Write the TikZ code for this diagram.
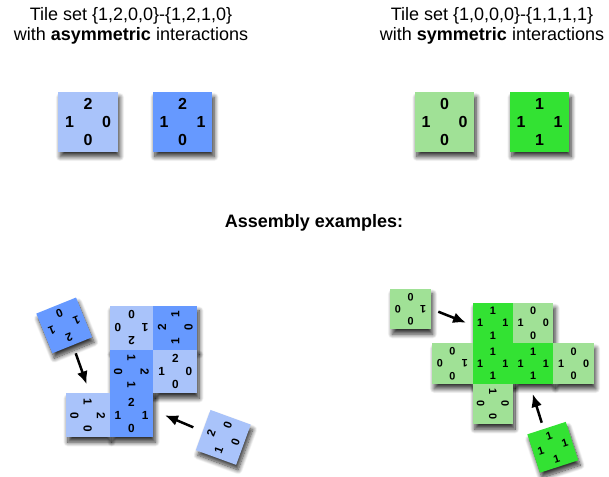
\documentclass[tikz,border=0pt]{standalone}
\usepackage{fontspec}
\setmainfont{Liberation Sans}
\usepackage{tikz}
\usetikzlibrary{shadows.blur,arrows.meta}
\definecolor{asymlight}{RGB}{169,195,250}
\definecolor{asymdark}{RGB}{102,153,255}
\definecolor{symlight}{RGB}{160,225,150}
\definecolor{symdark}{RGB}{51,226,51}
\tikzstyle{tilebox} = [rectangle, minimum size=59.5pt, inner sep=0pt, transform shape]
\tikzstyle{digit} = [inner sep=0pt, transform shape, font=\fontsize{16}{16}\selectfont\bfseries]
\tikzstyle{tileshade} = [blur shadow={shadow xshift=0pt, shadow yshift=0pt, shadow blur radius=4.5pt, shadow blur steps=12, shadow opacity=80}]
\tikzstyle{title} = [align=center, font=\fontsize{18}{20.7}\selectfont]
\tikzstyle{push} = [line width=2.5pt, -{Latex[length=13pt, width=11pt]}]

% shadow first, so that neighbouring tiles cover it
\newcommand{\shadetile}[3]{% position, angle, scale
  \begin{scope}[shift={#1}, shift={(2,-5)}, rotate=#2, scale=#3]
    \path[tileshade] (-29.75,-29.75) rectangle (29.75,29.75);
  \end{scope}}
\newcommand{\placetile}[9]{% name, position, angle, scale, colour, N, W, E, S
  \begin{scope}[shift={#2}, rotate=#3, scale=#4]
    \node[tilebox, fill=#5] (#1) at (0,0) {};
    \node[digit] (#1-n) at (0,18) {#6};
    \node[digit] (#1-w) at (-18.5,0) {#7};
    \node[digit] (#1-e) at (18.5,0) {#8};
    \node[digit] (#1-s) at (0,-18) {#9};
  \end{scope}}

% name/x/y/angle/scale/colour/N/W/E/S
\def\tilelist{%
  setA1/88/-122/0/1/asymlight/2/1/0/0,
  setA2/182.5/-122/0/1/asymdark/2/1/1/0,
  setS1/444.5/-122/0/1/symlight/0/1/0/0,
  setS2/539.5/-122/0/1/symdark/1/1/1/1,
  asmA1/131.5/-327.7/180/0.736/asymlight/2/1/0/0,
  asmA2/175.3/-327.7/90/0.736/asymdark/2/1/1/0,
  asmA3/131.5/-371.5/-90/0.736/asymdark/2/1/1/0,
  asmA4/175.3/-371.5/0/0.736/asymlight/2/1/0/0,
  asmA5/87.7/-415.3/-90/0.736/asymlight/2/1/0/0,
  asmA6/131.5/-415.3/0/0.736/asymdark/2/1/1/0,
  freeA1/64.2/-325.4/202/0.72/asymdark/2/1/1/0,
  freeA2/223.3/-437.4/70/0.72/asymlight/2/1/0/0,
  asmS1/492.8/-323.2/0/0.679/symdark/1/1/1/1,
  asmS2/533.2/-323.2/0/0.679/symlight/0/1/0/0,
  asmS3/452.4/-363.6/180/0.679/symlight/0/1/0/0,
  asmS4/492.8/-363.6/0/0.679/symdark/1/1/1/1,
  asmS5/533.2/-363.6/0/0.679/symdark/1/1/1/1,
  asmS6/573.6/-363.6/0/0.679/symlight/0/1/0/0,
  asmS7/492.8/-404/-90/0.679/symlight/0/1/0/0,
  freeS1/410.5/-309/180/0.679/symlight/0/1/0/0,
  freeS2/552.8/-447.3/18/0.679/symdark/1/1/1/1}

\begin{document}
\begin{tikzpicture}[x=1pt, y=1pt]
\useasboundingbox (0,0) rectangle (609,-476);

\foreach \nm/\px/\py/\ang/\sc/\col/\vn/\vw/\ve/\vs in \tilelist
  {\shadetile{(\px,\py)}{\ang}{\sc}}
\foreach \nm/\px/\py/\ang/\sc/\col/\vn/\vw/\ve/\vs in \tilelist
  {\placetile{\nm}{(\px,\py)}{\ang}{\sc}{\col}{\vn}{\vw}{\ve}{\vs}}

\node[title] (asymtitle) at (131,-25.7) {Tile set \{1,2,0,0\}-\{1,2,1,0\}\\with \textbf{asymmetric} interactions};
\node[title] (symtitle) at (492,-25.7) {Tile set \{1,0,0,0\}-\{1,1,1,1\}\\with \textbf{symmetric} interactions};
\node[anchor=base, font=\fontsize{18}{20}\selectfont\bfseries] (examples) at (314,-227) {Assembly examples:};

% arrows towards the assemblies
\coordinate (pushA1-tail) at (75.7,-353.3);
\coordinate (pushA1-tip) at (86.7,-384.3);
\coordinate (pushA2-tail) at (193.3,-427.3);
\coordinate (pushA2-tip) at (165,-415.3);
\coordinate (pushS1-tail) at (438.3,-311.7);
\coordinate (pushS1-tip) at (466,-322.7);
\coordinate (pushS2-tail) at (541.7,-422.7);
\coordinate (pushS2-tip) at (532.7,-394);
\draw[push] (pushA1-tail) -- (pushA1-tip);
\draw[push] (pushA2-tail) -- (pushA2-tip);
\draw[push] (pushS1-tail) -- (pushS1-tip);
\draw[push] (pushS2-tail) -- (pushS2-tip);
\end{tikzpicture}
\end{document}
